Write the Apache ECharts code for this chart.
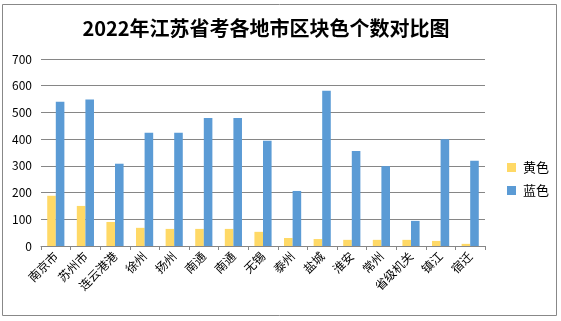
<!DOCTYPE html>
<html><head><meta charset="utf-8">
<script src="https://cdn.jsdelivr.net/npm/echarts@6/dist/echarts.min.js"></script>
<style>html,body{margin:0;padding:0;background:#fff}#c{width:561px;height:321px}</style>
</head><body><div id="c"></div>
<script>
const categories = ['南京市','苏州市','连云港港','徐州','扬州','南通','南通','无锡','泰州','盐城','淮安','常州','省级机关','镇江','宿迁'];
const yellow = [188, 150, 90, 68, 64, 64, 64, 53, 30, 26, 23, 23, 23, 19, 8];
const blue = [540, 548, 308, 424, 424, 479, 479, 394, 206, 581, 356, 299, 94, 400, 319];
const seriesNames = ['黄色', '蓝色'];
const yTicks = [0, 100, 200, 300, 400, 500, 600, 700];

const chart = echarts.init(document.getElementById('c'), null, {renderer: 'canvas'});
chart.setOption({
  animation: false,
  backgroundColor: '#fff',
  textStyle: {fontFamily: '"Noto Sans CJK SC", "Noto Sans", sans-serif'},
  title: {
    text: '2022年江苏省考各地市区块色个数对比图',
    left: 261, top: 13, textAlign: 'center',
    textStyle: {fontSize: 20, fontWeight: 'bold', color: '#000', fontFamily: '"Noto Sans CJK SC", sans-serif'}
  },
  graphic: [{
    type: 'rect', shape: {x: 2.5, y: 4.5, width: 554, height: 311},
    style: {fill: 'none', stroke: '#888', lineWidth: 1}, silent: true
  }],
  legend: {
    orient: 'vertical', left: 502, top: 156, itemWidth: 9, itemHeight: 9, itemGap: 10,
    icon: 'rect',
    textStyle: {fontSize: 13, color: '#000', padding: [0, 0, 0, 2]},
    data: seriesNames
  },
  grid: {left: 41, right: 76, top: 59, bottom: 75, containLabel: false},
  xAxis: {
    type: 'category', data: categories,
    axisLine: {lineStyle: {color: '#868686'}},
    axisTick: {show: true, alignWithLabel: false, length: 4, lineStyle: {color: '#868686'}},
    axisLabel: {rotate: 45, fontSize: 12, color: '#000', margin: 8, interval: 0}
  },
  yAxis: {
    type: 'value', min: 0, max: 700, interval: 100,
    axisLine: {show: false}, axisTick: {show: false},
    axisLabel: {fontSize: 12, color: '#000', margin: 9,
      formatter: v => yTicks.includes(v) ? String(v) : ''},
    splitLine: {lineStyle: {color: '#868686', width: 1}}
  },
  series: [
    {name: seriesNames[0], type: 'bar', data: yellow, itemStyle: {color: '#FFD966'}, barGap: '0%', barCategoryGap: '42%'},
    {name: seriesNames[1], type: 'bar', data: blue, itemStyle: {color: '#5B9BD5'}, barGap: '0%', barCategoryGap: '42%'}
  ]
});
</script></body></html>
